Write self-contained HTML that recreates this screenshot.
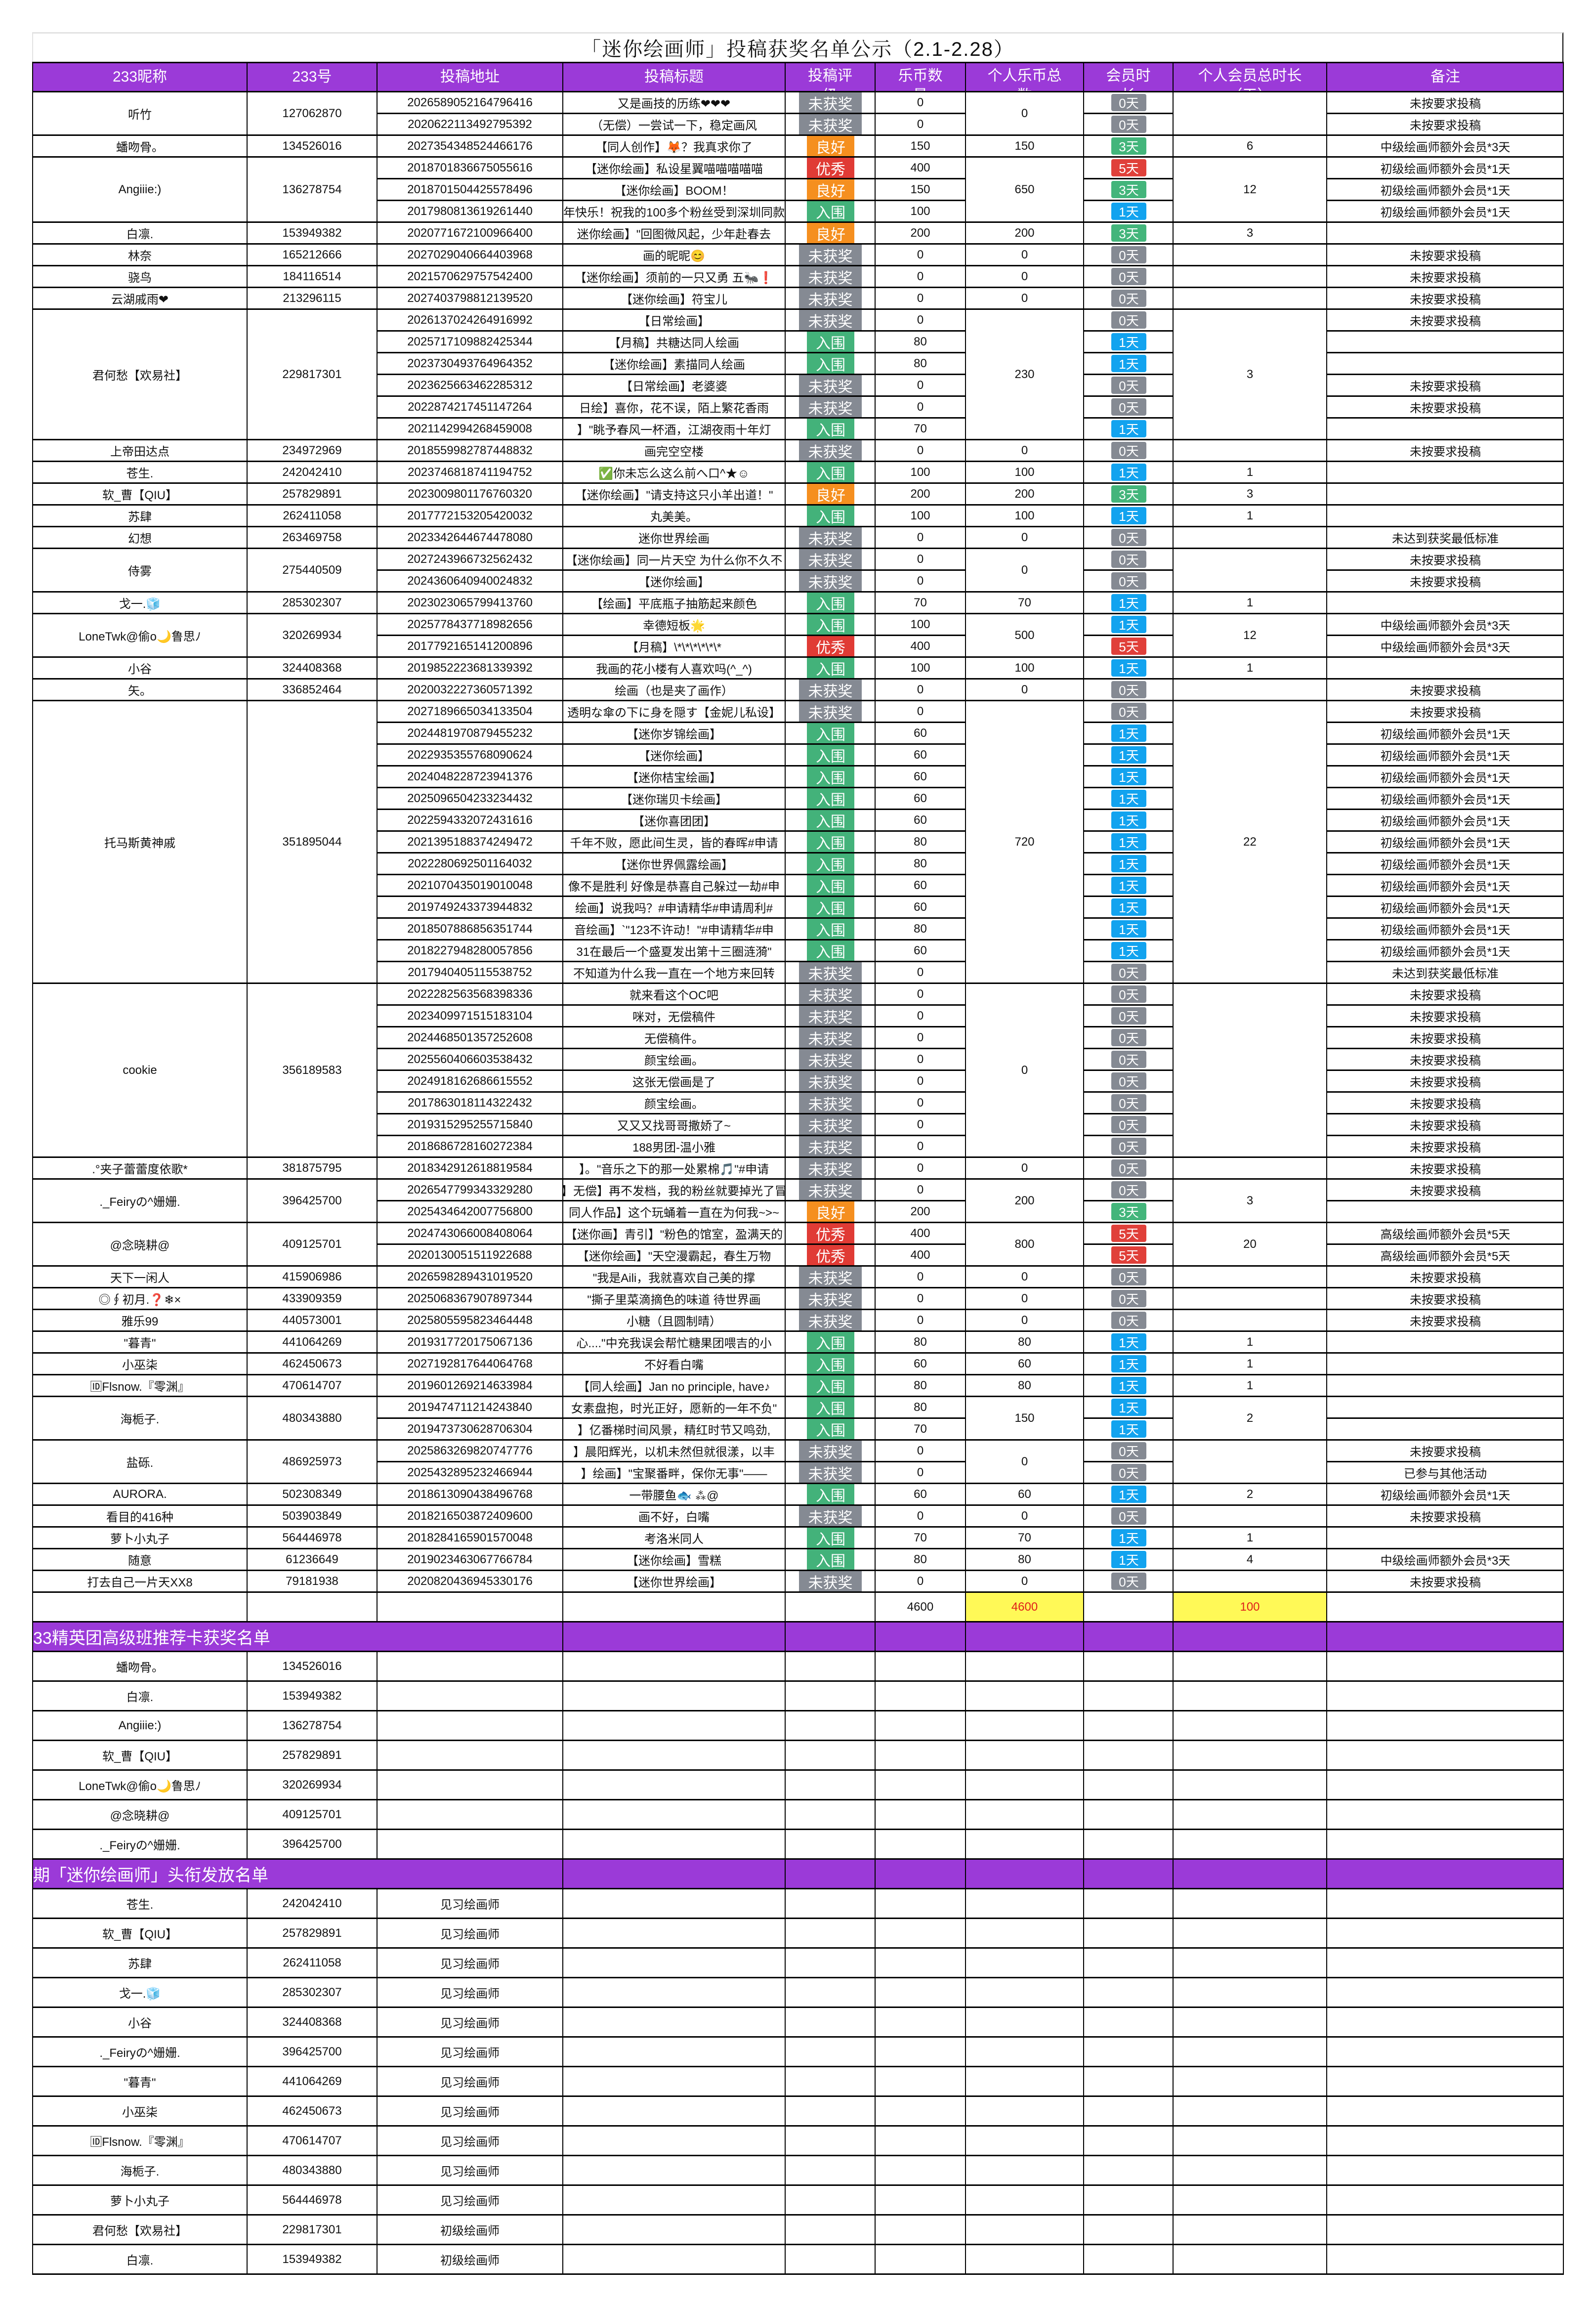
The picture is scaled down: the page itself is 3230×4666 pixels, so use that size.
<!DOCTYPE html>
<html lang="zh">
<head>
<meta charset="utf-8">
<title>「迷你绘画师」投稿获奖名单公示（2.1-2.28）</title>
<style>
  html,body{margin:0;padding:0;background:#fff;}
  body{width:3230px;height:4666px;position:relative;overflow:hidden;
    font-family:"Liberation Sans","Noto Sans CJK SC",sans-serif;color:#111;}
  .c{position:absolute;box-sizing:border-box;border-left:2px solid #000;border-top:3px solid #000;
    display:flex;align-items:center;justify-content:center;white-space:nowrap;overflow:hidden;font-size:24px;}
  .h{background:#9b3ad8;color:#fff;font-size:30px;}
  .hw{display:block;text-align:center;line-height:40px;padding-top:6px;}
  .rb{position:absolute;top:0;bottom:0;color:#fff;font-size:30px;display:flex;align-items:center;justify-content:center;}
  .db{position:absolute;top:3px;height:35px;width:71px;border-radius:4px;color:#fff;font-size:26px;display:flex;align-items:center;justify-content:center;}
  .y{background:#fff957;color:#e0201a;}
  .sec{background:#9b3ad8;color:#fff;font-size:34px;justify-content:flex-start;}
</style>
</head>
<body>
<div id="frame" style="position:absolute;left:65px;top:65px;width:3099px;height:60px;border-top:3px solid #e2e2e2;border-left:2px solid #e2e2e2;border-right:2px solid #000;box-sizing:border-box;"></div>
<div id="title" style="position:absolute;left:65px;top:68px;width:3099px;height:57px;display:flex;align-items:center;justify-content:center;font-size:40px;font-family:'Liberation Sans','Noto Serif CJK SC',serif;letter-spacing:2px;">「迷你绘画师」投稿获奖名单公示（2.1-2.28）</div>
<div id="sheet"></div>
<script>
const X=[65,499,762,1138,1588,1770,1953,2192,2373,2684,3164];
const headers=[['233昵称'],['233号'],['投稿地址'],['投稿标题'],['投稿评','级'],['乐币数','量'],['个人乐币总','数'],['会员时','长'],['个人会员总时长','（天）'],['备注']];
const ratingLabel={N:'未获奖',G:'入围',L:'良好',Y:'优秀'};
const ratingColor={N:'#858a93',G:'#43b27a',L:'#f58f1f',Y:'#e03b35'};
const ratingDays={N:'0天',G:'1天',L:'3天',Y:'5天'};
const dayColor={N:'#858a93',G:'#12a3ef',L:'#43b57b',Y:'#e0403a'};
const groups=[
{n:'听竹',id:'127062870',pc:'0',pd:'',r:[
['2026589052164796416','又是画技的历练❤❤❤','N','0','未按要求投稿'],
['2020622113492795392','（无偿）一尝试一下，稳定画风','N','0','未按要求投稿']]},
{n:'蟠吻骨。',id:'134526016',pc:'150',pd:'6',r:[['2027354348524466176','【同人创作】🦊？我真求你了','L','150','中级绘画师额外会员*3天']]},
{n:'Angiiie:)',id:'136278754',pc:'650',pd:'12',r:[
['2018701836675055616','【迷你绘画】私设星翼喵喵喵喵喵','Y','400','初级绘画师额外会员*1天'],
['2018701504425578496','【迷你绘画】BOOM！','L','150','初级绘画师额外会员*1天'],
['2017980813619261440','年快乐！祝我的100多个粉丝受到深圳同款','G','100','初级绘画师额外会员*1天']]},
{n:'白凛.',id:'153949382',pc:'200',pd:'3',r:[['2020771672100966400','迷你绘画】"回图微风起，少年赴春去','L','200','']]},
{n:'林奈',id:'165212666',pc:'0',pd:'',r:[['2027029040664403968','画的昵昵😊','N','0','未按要求投稿']]},
{n:'骁鸟',id:'184116514',pc:'0',pd:'',r:[['2021570629757542400','【迷你绘画】须前的一只又勇 五🐜❗','N','0','未按要求投稿']]},
{n:'云湖戚雨❤',id:'213296115',pc:'0',pd:'',r:[['2027403798812139520','【迷你绘画】符宝儿','N','0','未按要求投稿']]},
{n:'君何愁【欢易社】',id:'229817301',pc:'230',pd:'3',r:[
['2026137024264916992','【日常绘画】','N','0','未按要求投稿'],
['2025717109882425344','【月稿】共糖达同人绘画','G','80',''],
['2023730493764964352','【迷你绘画】素描同人绘画','G','80',''],
['2023625663462285312','【日常绘画】老婆婆','N','0','未按要求投稿'],
['2022874217451147264','日绘】喜你，花不误，陌上繁花香雨','N','0','未按要求投稿'],
['2021142994268459008','】"眺予春风一杯酒，江湖夜雨十年灯','G','70','']]},
{n:'上帝田达点',id:'234972969',pc:'0',pd:'',r:[['2018559982787448832','画完空空楼','N','0','未按要求投稿']]},
{n:'苍生.',id:'242042410',pc:'100',pd:'1',r:[['2023746818741194752','✅你未忘么这么前へ口^★☺','G','100','']]},
{n:'软_曹【QIU】',id:'257829891',pc:'200',pd:'3',r:[['2023009801176760320','【迷你绘画】"请支持这只小羊出道！"','L','200','']]},
{n:'苏肆',id:'262411058',pc:'100',pd:'1',r:[['2017772153205420032','丸美美。','G','100','']]},
{n:'幻想',id:'263469758',pc:'0',pd:'',r:[['2023342644674478080','迷你世界绘画','N','0','未达到获奖最低标准']]},
{n:'侍雾',id:'275440509',pc:'0',pd:'',r:[
['2027243966732562432','【迷你绘画】同一片天空 为什么你不久不','N','0','未按要求投稿'],
['2024360640940024832','【迷你绘画】','N','0','未按要求投稿']]},
{n:'戈一.🧊',id:'285302307',pc:'70',pd:'1',r:[['2023023065799413760','【绘画】平底瓶子抽筋起来颜色','G','70','']]},
{n:'LoneTwk@偷o🌙鲁思ﾉ',id:'320269934',pc:'500',pd:'12',r:[
['2025778437718982656','幸德短板🌟','G','100','中级绘画师额外会员*3天'],
['2017792165141200896','【月稿】\\*\\*\\*\\*\\*\\*','Y','400','中级绘画师额外会员*3天']]},
{n:'小谷',id:'324408368',pc:'100',pd:'1',r:[['2019852223681339392','我画的花小楼有人喜欢吗(^_^)','G','100','']]},
{n:'矢。',id:'336852464',pc:'0',pd:'',r:[['2020032227360571392','绘画（也是夹了画作）','N','0','未按要求投稿']]},
{n:'托马斯黄神戚',id:'351895044',pc:'720',pd:'22',r:[
['2027189665034133504','透明な傘の下に身を隠す【金妮儿私设】','N','0','未按要求投稿'],
['2024481970879455232','【迷你岁锦绘画】','G','60','初级绘画师额外会员*1天'],
['2022935355768090624','【迷你绘画】','G','60','初级绘画师额外会员*1天'],
['2024048228723941376','【迷你桔宝绘画】','G','60','初级绘画师额外会员*1天'],
['2025096504233234432','【迷你瑞贝卡绘画】','G','60','初级绘画师额外会员*1天'],
['2022594332072431616','【迷你喜团团】','G','60','初级绘画师额外会员*1天'],
['2021395188374249472','千年不败，愿此间生灵，皆的春晖#申请','G','80','初级绘画师额外会员*1天'],
['2022280692501164032','【迷你世界佩露绘画】','G','80','初级绘画师额外会员*1天'],
['2021070435019010048','像不是胜利 好像是恭喜自己躲过一劫#申','G','60','初级绘画师额外会员*1天'],
['2019749243373944832','绘画】说我吗？#申请精华#申请周利#','G','60','初级绘画师额外会员*1天'],
['2018507886856351744','音绘画】`"123不许动！"#申请精华#申','G','80','初级绘画师额外会员*1天'],
['2018227948280057856','31在最后一个盛夏发出第十三圈涟漪"','G','60','初级绘画师额外会员*1天'],
['2017940405115538752','不知道为什么我一直在一个地方来回转','N','0','未达到获奖最低标准']]},
{n:'cookie',id:'356189583',pc:'0',pd:'',r:[
['2022282563568398336','就来看这个OC吧','N','0','未按要求投稿'],
['2023409971515183104','咪对，无偿稿件','N','0','未按要求投稿'],
['2024468501357252608','无偿稿件。','N','0','未按要求投稿'],
['2025560406603538432','颜宝绘画。','N','0','未按要求投稿'],
['2024918162686615552','这张无偿画是了','N','0','未按要求投稿'],
['2017863018114322432','颜宝绘画。','N','0','未按要求投稿'],
['2019315295255715840','又又又找哥哥撒娇了~','N','0','未按要求投稿'],
['2018686728160272384','188男团-温小雅','N','0','未按要求投稿']]},
{n:'.°夹子蕾蕾度依歌*',id:'381875795',pc:'0',pd:'',r:[['2018342912618819584','】。"音乐之下的那一处累棉🎵"#申请','N','0','未按要求投稿']]},
{n:'._Feiryの^姗姗.',id:'396425700',pc:'200',pd:'3',r:[
['2026547799343329280','】无偿】再不发档，我的粉丝就要掉光了冒','N','0','未按要求投稿'],
['2025434642007756800','同人作品】这个玩蛹着一直在为何我~>~','L','200','']]},
{n:'@念晓耕@',id:'409125701',pc:'800',pd:'20',r:[
['2024743066008408064','【迷你画】青引】"粉色的馆室，盈满天的','Y','400','高级绘画师额外会员*5天'],
['2020130051511922688','【迷你绘画】"天空漫霸起，春生万物','Y','400','高级绘画师额外会员*5天']]},
{n:'天下一闲人',id:'415906986',pc:'0',pd:'',r:[['2026598289431019520','"我是Aili，我就喜欢自己美的撑','N','0','未按要求投稿']]},
{n:'◎∮初月.❓❄×',id:'433909359',pc:'0',pd:'',r:[['2025068367907897344','"撕子里菜滴摘色的味道 待世界画','N','0','未按要求投稿']]},
{n:'雅乐99',id:'440573001',pc:'0',pd:'',r:[['2025805595823464448','小糖（且圆制晴）','N','0','未按要求投稿']]},
{n:'"暮青"',id:'441064269',pc:'80',pd:'1',r:[['2019317720175067136','心...."中充我误会帮忙糖果团喂吉的小','G','80','']]},
{n:'小巫柒',id:'462450673',pc:'60',pd:'1',r:[['2027192817644064768','不好看白嘴','G','60','']]},
{n:'🆔Flsnow.『零渊』',id:'470614707',pc:'80',pd:'1',r:[['2019601269214633984','【同人绘画】Jan no principle, have♪','G','80','']]},
{n:'海栀子.',id:'480343880',pc:'150',pd:'2',r:[
['2019474711214243840','女素盘抱，时光正好，愿新的一年不负"','G','80',''],
['2019473730628706304','】亿番梯时间风景，精红时节又鸣劲,','G','70','']]},
{n:'盐砾.',id:'486925973',pc:'0',pd:'',r:[
['2025863269820747776','】晨阳辉光，以机未然但就很漾，以丰','N','0','未按要求投稿'],
['2025432895232466944','】绘画】"宝聚番畔，保你无事"——','N','0','已参与其他活动']]},
{n:'AURORA.',id:'502308349',pc:'60',pd:'2',r:[['2018613090438496768','一带腰鱼🐟 ⁂@','G','60','初级绘画师额外会员*1天']]},
{n:'看目的416种',id:'503903849',pc:'0',pd:'',r:[['2018216503872409600','画不好，白嘴','N','0','未按要求投稿']]},
{n:'萝卜小丸子',id:'564446978',pc:'70',pd:'1',r:[['2018284165901570048','考洛米同人','G','70','']]},
{n:'随意',id:'61236649',pc:'80',pd:'4',r:[['2019023463067766784','【迷你绘画】雪糕','G','80','中级绘画师额外会员*3天']]},
{n:'打去自己一片天XX8',id:'79181938',pc:'0',pd:'',r:[['2020820436945330176','【迷你世界绘画】','N','0','未按要求投稿']]}
];
const totalCoins='4600';
const totalPersonalCoins='4600';
const totalDays='100';
const eliteTitle='33精英团高级班推荐卡获奖名单';
const eliteNames=['蟠吻骨。','白凛.','Angiiie:)','软_曹【QIU】','LoneTwk@偷o🌙鲁思ﾉ','@念晓耕@','._Feiryの^姗姗.'];
const eliteIds=['134526016','153949382','136278754','257829891','320269934','409125701','396425700'];
const titleListTitle='期「迷你绘画师」头衔发放名单';
const titleNames=['苍生.','软_曹【QIU】','苏肆','戈一.🧊','小谷','._Feiryの^姗姗.','"暮青"','小巫柒','🆔Flsnow.『零渊』','海栀子.','萝卜小丸子','君何愁【欢易社】','白凛.'];
const titleIds=['242042410','257829891','262411058','285302307','324408368','396425700','441064269','462450673','470614707','480343880','564446978','229817301','153949382'];
const titleRanks=['见习绘画师','见习绘画师','见习绘画师','见习绘画师','见习绘画师','见习绘画师','见习绘画师','见习绘画师','见习绘画师','见习绘画师','见习绘画师','初级绘画师','初级绘画师'];

const sheet=document.getElementById('sheet');
function cell(a,b,top,h,text,cls){
  const d=document.createElement('div');
  d.className='c'+(cls?' '+cls:'');
  d.style.left=X[a]+'px';d.style.width=(X[b]-X[a])+'px';
  d.style.top=top+'px';d.style.height=h+'px';
  if(text!=null&&text!=='')d.textContent=text;
  
  
  sheet.appendChild(d);return d;
}
const HT=125,HH=59;
headers.forEach((lines,i)=>{
  const d=cell(i,i+1,HT,HH,null,'h');
  
  d.style.alignItems='flex-start';
  const w=document.createElement('div');w.className='hw';
  w.innerHTML=lines.join('<br>');
  if(lines.length===1){w.style.paddingTop='0';w.style.lineHeight='56px';}
  d.appendChild(w);
});
const RT=184,RH=44;
let row=0;
groups.forEach(g=>{
  const n=g.r.length,top=RT+row*RH,h=n*RH;
  const nc=cell(0,1,top,h,g.n);
  
  const ic=cell(1,2,top,h,g.id);
  
  const pc=cell(6,7,top,h,g.pc);
  
  const pd=cell(8,9,top,h,g.pd);
  
  g.r.forEach((r,k)=>{
    const t=top+k*RH;
    const ac=cell(2,3,t,RH,r[0]);
    
    const tc=cell(3,4,t,RH,r[1]);
    
    const rc=cell(4,5,t,RH,null);
    
    const b=document.createElement('div');b.className='rb';
    b.textContent=ratingLabel[r[2]];b.style.background=ratingColor[r[2]];
    if(r[2]==='N'){b.style.left='27px';b.style.width='127px';}else{b.style.left='43px';b.style.width='96px';}
    
    
    rc.appendChild(b);
    const cc=cell(5,6,t,RH,r[3]);
    
    const dc=cell(7,8,t,RH,null);
    
    const db=document.createElement('div');db.className='db';
    db.textContent=ratingDays[r[2]];db.style.background=dayColor[r[2]];db.style.left='55px';
    
    
    dc.appendChild(db);
    const nt=cell(9,10,t,RH,r[4]);
    
  });
  row+=n;
});
let y=RT+row*RH;
const TH=60;
for(let i=0;i<10;i++){
  let txt='',cls='';
  if(i===5)txt=totalCoins;
  if(i===6){txt=totalPersonalCoins;cls='y';}
  if(i===8){txt=totalDays;cls='y';}
  const d=cell(i,i+1,y,TH,txt,cls);
  
}
y+=TH;
function section(title,names,ids,ranks,nm){
  const s=cell(0,3,y,60,title,'sec');
  
  for(let i=3;i<10;i++){const d=cell(i,i+1,y,60,'','sec');}
  y+=60;
  names.forEach((nmv,k)=>{
    const a=cell(0,1,y,60,nmv);
    
    const b=cell(1,2,y,60,ids[k]);
    
    const c=cell(2,3,y,60,ranks?ranks[k]:'');
    
    for(let i=3;i<10;i++){const d=cell(i,i+1,y,60,'');}
    y+=60;
  });
}
section(eliteTitle,eliteNames,eliteIds,null,'elite-list');
section(titleListTitle,titleNames,titleIds,titleRanks,'title-list');
const rb=document.createElement('div');
rb.style.cssText='position:absolute;left:'+(X[10]-1)+'px;top:'+HT+'px;width:2px;height:'+(y-HT)+'px;background:#000;';


sheet.appendChild(rb);
const bb=document.createElement('div');
bb.style.cssText='position:absolute;left:'+X[0]+'px;top:'+y+'px;width:'+(X[10]-X[0]+1)+'px;height:3px;background:#000;';


sheet.appendChild(bb);
</script>
</body>
</html>
